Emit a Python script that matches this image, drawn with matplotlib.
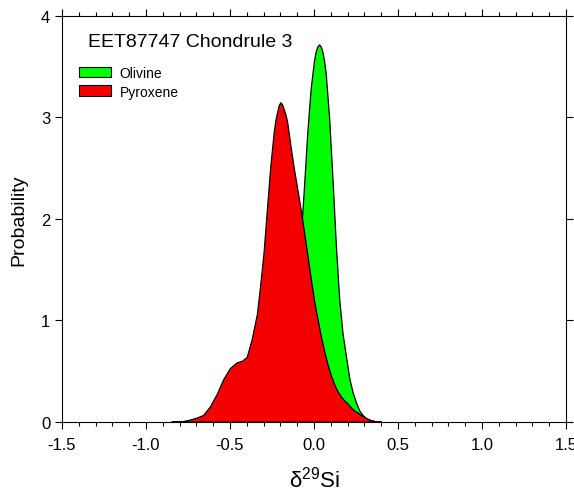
import matplotlib
matplotlib.use("Agg")
import matplotlib.pyplot as plt
from matplotlib.patches import Patch
from matplotlib.ticker import MultipleLocator

plt.rcParams["font.family"] = ["Liberation Sans", "DejaVu Sans"]
plt.rcParams["mathtext.fontset"] = "custom"
plt.rcParams["mathtext.rm"] = "Liberation Sans"

# olivine probability curve
oli_x = [-0.40, -0.30, -0.24, -0.18, -0.14, -0.10, -0.08, -0.06, -0.04, -0.02,
         0.00, 0.01, 0.02, 0.03, 0.04, 0.05, 0.06, 0.07, 0.09, 0.11,
         0.13, 0.15, 0.17, 0.19, 0.21, 0.23, 0.25, 0.27, 0.29, 0.31,
         0.33, 0.36, 0.40]
oli_y = [0.0, 0.02, 0.10, 0.35, 0.75, 1.40, 1.80, 2.30, 2.85, 3.28,
         3.56, 3.65, 3.70, 3.72, 3.70, 3.65, 3.56, 3.43, 3.00, 2.40,
         1.75, 1.21, 0.87, 0.65, 0.43, 0.29, 0.19, 0.11, 0.065, 0.035,
         0.018, 0.006, 0.0]

# pyroxene probability curve
pyx_x = [-0.85, -0.78, -0.74, -0.70, -0.66, -0.62, -0.58, -0.54, -0.50, -0.46,
         -0.43, -0.40, -0.37, -0.34, -0.32, -0.30, -0.28, -0.26, -0.24, -0.23,
         -0.22, -0.21, -0.20, -0.19, -0.18, -0.17, -0.16, -0.14, -0.12, -0.10,
         -0.08, -0.06, -0.04, -0.02, 0.00, 0.02, 0.04, 0.06, 0.08, 0.10,
         0.12, 0.14, 0.16, 0.18, 0.20, 0.22, 0.24, 0.26, 0.28, 0.30,
         0.32, 0.34, 0.36, 0.40]
pyx_y = [0.0, 0.006, 0.02, 0.04, 0.066, 0.15, 0.27, 0.42, 0.53, 0.585,
         0.60, 0.64, 0.82, 1.06, 1.35, 1.67, 2.10, 2.52, 2.85, 2.97,
         3.05, 3.12, 3.15, 3.13, 3.08, 3.03, 2.96, 2.72, 2.50, 2.30,
         2.10, 1.88, 1.65, 1.42, 1.20, 1.02, 0.85, 0.70, 0.57, 0.46,
         0.37, 0.30, 0.25, 0.21, 0.18, 0.14, 0.11, 0.09, 0.065, 0.045,
         0.028, 0.015, 0.007, 0.0]

OLI_COLOR = "#00ff00"
PYX_COLOR = "#f50000"

fig = plt.figure(figsize=(5.74, 4.89), dpi=100)
ax = fig.add_axes([0.108, 0.1356, 0.878, 0.8296])

ax.fill_between(oli_x, oli_y, 0, facecolor=OLI_COLOR, edgecolor="black", linewidth=0.9)
ax.fill_between(pyx_x, pyx_y, 0, facecolor=PYX_COLOR, edgecolor="black", linewidth=0.9)

ax.set_xlim(-1.5, 1.5)
ax.set_ylim(0, 4)
ax.xaxis.set_major_locator(MultipleLocator(0.5))
ax.xaxis.set_minor_locator(MultipleLocator(0.1))
ax.yaxis.set_major_locator(MultipleLocator(1))
ax.xaxis.set_major_formatter(plt.FuncFormatter(lambda v, p: f"{v:.1f}"))
ax.tick_params(axis="both", which="both", direction="out", top=True, right=True,
               labelsize=12, width=0.8)
ax.tick_params(axis="x", which="major", pad=6)
ax.tick_params(which="major", length=5)
ax.tick_params(which="minor", length=3)
for s in ax.spines.values():
    s.set_linewidth(0.8)

ax.set_xlabel("δ$^{\\mathrm{29}}$Si", fontsize=16, labelpad=10)
ax.set_ylabel("Probability", fontsize=14, labelpad=10)

ax.text(0.052, 0.936, "EET87747 Chondrule 3", transform=ax.transAxes,
        fontsize=14, va="center", ha="left")

handles = [Patch(facecolor=OLI_COLOR, edgecolor="black", linewidth=0.8, label="Olivine"),
           Patch(facecolor=PYX_COLOR, edgecolor="black", linewidth=0.8, label="Pyroxene")]
ax.legend(handles=handles, loc="upper left", bbox_to_anchor=(0.012, 0.905),
          frameon=False, fontsize=10, handlelength=2.3, handleheight=0.8,
          handletextpad=0.6, labelspacing=0.35, borderpad=0.3)

fig.savefig("out.png", dpi=100)
